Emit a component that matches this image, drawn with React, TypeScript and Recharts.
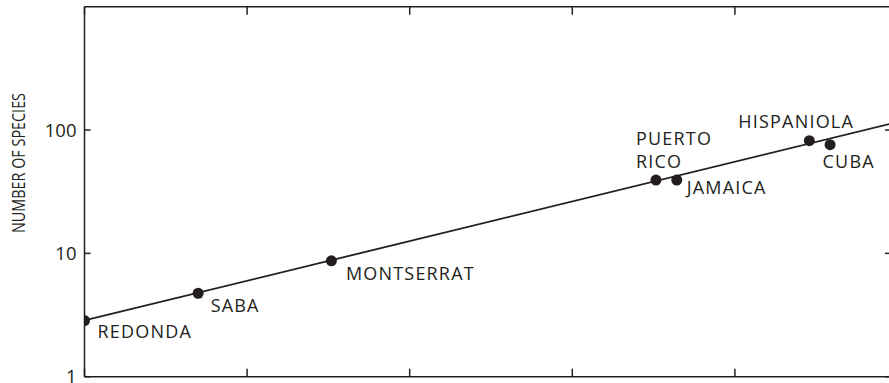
import { ComposedChart, Line, Scatter, XAxis, YAxis } from "recharts";

// island species–area data (log–log)
const islands = ["REDONDA", "SABA", "MONTSERRAT", "PUERTO RICO", "JAMAICA", "HISPANIOLA", "CUBA"];
const areas = [1, 5, 33, 3270, 4390, 28700, 38500];
const speciesCounts = [2.85, 4.75, 8.7, 39.3, 39.3, 82, 76];

// fitted line end points
const fitAreas = [1, 100000];
const fitSpecies = [2.86, 116];

const xTicks = [1, 10, 100, 1000, 10000, 100000];
const yTicks = [1, 10, 100];

const points = islands.map((name, i) => ({ name, area: areas[i], species: speciesCounts[i] }));
const fitLine = fitAreas.map((area, i) => ({ area, species: fitSpecies[i] }));

// where each island's name sits relative to its dot
const labelOffset: Record<string, { dx: number; dy: number }> = {
  REDONDA: { dx: 13, dy: 17.5 },
  SABA: { dx: 12.5, dy: 18.5 },
  MONTSERRAT: { dx: 14.5, dy: 19 },
  "PUERTO RICO": { dx: -20, dy: -35 },
  JAMAICA: { dx: 10, dy: 14 },
  HISPANIOLA: { dx: -71, dy: -12.5 },
  CUBA: { dx: -7.5, dy: 23.5 },
};

const INK = "#231f20";
const FONT = "'Open Sans', sans-serif";

function IslandDot(props: any) {
  const { cx, cy, payload } = props;
  const off = labelOffset[payload.name] || { dx: 10, dy: 15 };
  const words = payload.name.split(" ");
  return (
    <g>
      <circle cx={cx} cy={cy} r={5.5} fill={INK} />
      {words.map((w: string, i: number) => (
        <text
          key={w}
          x={cx + off.dx}
          y={cy + off.dy + i * 23.3}
          fontSize={18}
          letterSpacing={1.2}
          fontFamily={FONT}
          fill={INK}
        >
          {w}
        </text>
      ))}
    </g>
  );
}

function YTitle(props: any) {
  const vb = props.viewBox || { x: 0, y: 0 };
  const x = vb.x + 25;
  const y = 163;
  return (
    <text
      x={x}
      y={y}
      transform={`rotate(-90 ${x} ${y})`}
      textAnchor="middle"
      fontSize={17.5}
      textLength={140}
      lengthAdjust="spacingAndGlyphs"
      fontFamily={FONT}
      fill={INK}
    >
      NUMBER OF SPECIES
    </text>
  );
}

// ticks point into the frame; drawn by hand from the tick anchor Recharts hands over
const inwardTick = (dx: number, dy: number) => (props: any) => (
  <line
    x1={props.x}
    y1={props.y}
    x2={props.x + dx}
    y2={props.y + dy}
    stroke={INK}
    strokeWidth={1.5}
  />
);

function LeftTick(props: any) {
  const { x, y, payload } = props;
  return (
    <g>
      <line x1={x} y1={y} x2={x + 6} y2={y} stroke={INK} strokeWidth={1.5} />
      <text
        x={x - 8}
        y={y}
        dy="0.355em"
        textAnchor="end"
        fontSize={18.5}
        fontFamily={FONT}
        fill={INK}
      >
        {payload.value}
      </text>
    </g>
  );
}

const THIN = 0.01;
const frameLine = { stroke: INK, strokeWidth: 1.5 };

export default function App() {
  return (
    <div
      style={{
        position: "fixed",
        left: 0,
        top: 0,
        width: 889,
        height: 383,
        overflow: "hidden",
        background: "#fff",
      }}
    >
      <ComposedChart
        width={897.5 + THIN}
        height={383}
        margin={{ top: 6.7 - THIN, right: 0, bottom: 6.3 - THIN, left: 0 }}
      >
        <XAxis
          xAxisId="bottom"
          dataKey="area"
          type="number"
          scale="log"
          domain={[1, 100000]}
          allowDataOverflow
          ticks={xTicks}
          interval={0}
          orientation="bottom"
          height={THIN}
          tick={inwardTick(0, -8)}
          tickSize={0}
          tickMargin={0}
          tickLine={false}
          axisLine={frameLine}
        />
        <XAxis
          xAxisId="top"
          dataKey="area"
          type="number"
          scale="log"
          domain={[1, 100000]}
          allowDataOverflow
          ticks={xTicks}
          interval={0}
          orientation="top"
          height={THIN}
          tick={inwardTick(0, 8)}
          tickSize={0}
          tickMargin={0}
          tickLine={false}
          axisLine={frameLine}
        />
        <YAxis
          yAxisId="left"
          type="number"
          scale="log"
          domain={[1, 1000]}
          allowDataOverflow
          ticks={yTicks}
          interval={0}
          width={84.5}
          tickSize={0}
          tickMargin={0}
          tickLine={false}
          axisLine={frameLine}
          tick={LeftTick}
          label={{ content: <YTitle /> }}
        />
        <YAxis
          yAxisId="right"
          type="number"
          scale="log"
          domain={[1, 1000]}
          allowDataOverflow
          ticks={yTicks}
          interval={0}
          orientation="right"
          width={THIN}
          tick={inwardTick(-12.5, 0)}
          tickSize={0}
          tickMargin={0}
          tickLine={false}
          axisLine={frameLine}
        />
        <Line
          xAxisId="bottom"
          yAxisId="left"
          data={fitLine}
          dataKey="species"
          type="linear"
          stroke={INK}
          strokeWidth={1.8}
          dot={false}
          activeDot={false}
          isAnimationActive={false}
        />
        <Scatter
          xAxisId="bottom"
          yAxisId="left"
          data={points}
          dataKey="species"
          shape={<IslandDot />}
          isAnimationActive={false}
        />
      </ComposedChart>
    </div>
  );
}
